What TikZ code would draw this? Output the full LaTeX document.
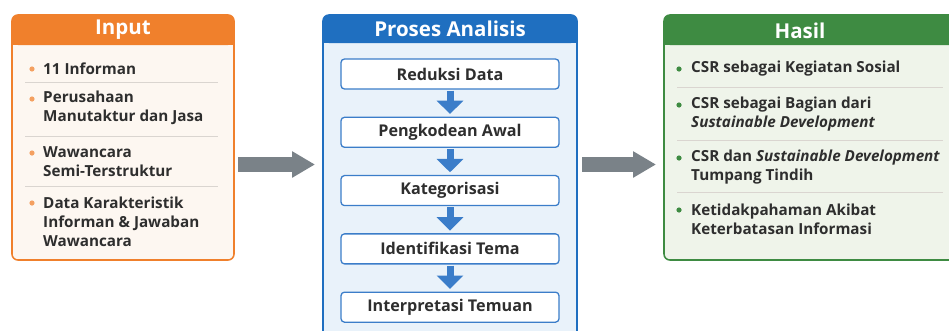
\documentclass[tikz,border=0pt]{standalone}
\usepackage{fontspec}
\setmainfont{Open Sans}
\usetikzlibrary{arrows.meta,fit,positioning,calc}

\definecolor{orghead}{HTML}{F0802C}
\definecolor{orgbody}{HTML}{FDF7F1}
\definecolor{bluhead}{HTML}{1F6FC0}
\definecolor{blubody}{HTML}{E9F2FA}
\definecolor{blustep}{HTML}{3B7DC9}
\definecolor{grnhead}{HTML}{3E8B42}
\definecolor{grnbody}{HTML}{EFF4EA}
\definecolor{txtgray}{HTML}{2E2E2E}
\definecolor{sepgray}{HTML}{DAD5D0}
\definecolor{arrgray}{HTML}{7A8288}

\tikzset{
  panel/.style={inner sep=0pt, rounded corners=5, line width=1.3pt},
  headtxt/.style={inner sep=0pt, text=white, font=\fontsize{17.5}{19}\selectfont\bfseries},
  item/.style={anchor=west, align=left, inner sep=0pt, text=txtgray, font=\fontsize{13}{16.2}\selectfont\bfseries},
  stepbox/.style={draw=blustep, fill=white, rounded corners=3, line width=1.1pt, inner sep=0pt,
    minimum width=6.54cm, minimum height=0.9cm, text=txtgray, font=\fontsize{13.8}{15}\selectfont\bfseries},
  sepline/.style={draw=sepgray, line width=0.6pt},
  bigarrow/.style={draw=arrgray, line width=0.45cm, -{Triangle[width=0.75cm,length=0.69cm]}},
  downarrow/.style={draw=blustep, line width=0.21cm, -{Triangle[width=0.78cm,length=0.4cm]},
    shorten <=0.03cm, shorten >=0.08cm},
}

\begin{document}
\begin{tikzpicture}[x=0.03cm,y=-0.03cm,node distance=0.81cm]
\clip (0,0) rectangle (949,330);
\fill[white] (0,0) rectangle (949,330);

% input
\node[panel, draw=orghead, fill=orgbody, fit={(12,15) (234,260)}] (input) {};
\fill[orghead, rounded corners=5] (12,15) rectangle (234,45);
\fill[orghead] (12,35) rectangle (234,45);
\node[headtxt] (inputhd) at (123,30) {Input};

\fill[orghead!75] (32,69) circle (2.6);
\node[item] (in1) at (43,69) {11 Informan};
\draw[sepline] (25,82) -- (218,82);
\fill[orghead!75] (32,99) circle (2.6);
\node[item] (in2) at (43,107.5) {Perusahaan\\Manutaktur dan Jasa};
\draw[sepline] (25,136) -- (218,136);
\fill[orghead!75] (32,153) circle (2.6);
\node[item] (in3) at (43,162) {Wawancara\\Semi-Terstruktur};
\draw[sepline] (25,186) -- (218,186);
\fill[orghead!75] (32,203) circle (2.6);
\node[item] (in4) at (43,222) {Data Karakteristik\\Informan \& Jawaban\\Wawancara};

% proses
\node[panel, draw=bluhead, fill=blubody, fit={(323,15) (577,345)}] (proses) {};
\fill[bluhead, rounded corners=5] (323,15) rectangle (577,43);
\fill[bluhead] (323,33) rectangle (577,43);
\node[headtxt] (proseshd) at (450,29) {Proses Analisis};

\node[stepbox] (reduksi) at (450,74) {Reduksi Data};
\node[stepbox, below=of reduksi] (pengkodean) {Pengkodean Awal};
\node[stepbox, below=of pengkodean] (kategori) {Kategorisasi};
\node[stepbox, below=of kategori] (tema) {Identifikasi Tema};
\node[stepbox, below=of tema] (temuan) {Interpretasi Temuan};

\draw[downarrow] (reduksi) -- (pengkodean);
\draw[downarrow] (pengkodean) -- (kategori);
\draw[downarrow] (kategori) -- (tema);
\draw[downarrow] (tema) -- (temuan);

% hasil
\node[panel, draw=grnhead, fill=grnbody, fit={(664,15) (960,260)}] (hasil) {};
\fill[grnhead, rounded corners=5] (664,15) rectangle (960,45);
\fill[grnhead] (664,35) rectangle (960,45);
\node[headtxt] (hasilhd) at (800,31) {Hasil};

\fill[grnhead] (679,69) circle (2.6);
\node[item] (out1) at (691,69) {CSR sebagai Kegiatan Sosial};
\draw[sepline] (677,87) -- (943,87);
\fill[grnhead] (679,105) circle (2.6);
\node[item] (out2) at (691,114.5) {CSR sebagai Bagian dari\\\textit{Sustainable Development}};
\draw[sepline] (677,140) -- (943,140);
\fill[grnhead] (679,158) circle (2.6);
\node[item] (out3) at (691,167) {CSR dan \textit{Sustainable Development}\\Tumpang Tindih};
\draw[sepline] (677,192) -- (943,192);
\fill[grnhead] (679,210) circle (2.6);
\node[item] (out4) at (691,219.5) {Ketidakpahaman Akibat\\Keterbatasan Informasi};

% gray arrows
\coordinate (a1) at (238,164.5);
\coordinate (a2) at (315,164.5);
\coordinate (b1) at (582,164.5);
\coordinate (b2) at (656,164.5);
\draw[bigarrow] (a1) -- (a2);
\draw[bigarrow] (b1) -- (b2);

\end{tikzpicture}
\end{document}
